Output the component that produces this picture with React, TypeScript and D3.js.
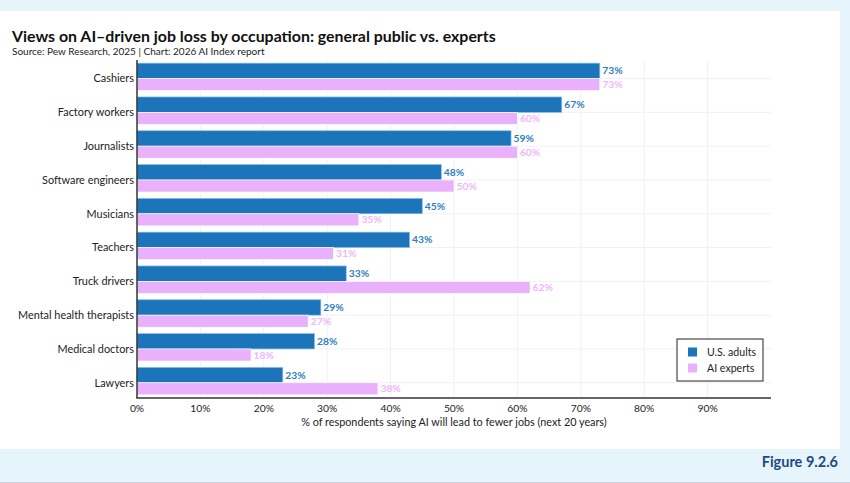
import * as d3 from "d3";

const categories = [
	"Cashiers",
	"Factory workers",
	"Journalists",
	"Software engineers",
	"Musicians",
	"Teachers",
	"Truck drivers",
	"Mental health therapists",
	"Medical doctors",
	"Lawyers",
];
const usAdults = [73, 67, 59, 48, 45, 43, 33, 29, 28, 23];
const aiExperts = [73, 60, 60, 50, 35, 31, 62, 27, 18, 38];
const xTicks = [0, 10, 20, 30, 40, 50, 60, 70, 80, 90];
const seriesNames = ["U.S. adults", "AI experts"];

const W = 850;
const H = 483;
const FONT = "Lato, 'Open Sans', sans-serif";
const BLUE = "#1c75bb";
const PINK = "#e9b1fc";
const BLUE_TXT = "#2f80c2";
const PINK_TXT = "#efb6fd";

function App() {
	const x = d3.scaleLinear().domain([0, 100]).range([137, 771]);
	const y = d3
		.scaleBand<string>()
		.domain(categories)
		.range([60, 398])
		.paddingInner(0.186)
		.paddingOuter(0.093);
	const bw = y.bandwidth();
	const blueH = bw * 0.56;
	const pinkH = bw - blueH;

	return (
		<svg
			width={W}
			height={H}
			style={{ position: "absolute", left: 0, top: 0 }}
			fontFamily={FONT}
		>
			<rect width={W} height={H} fill="#e6f4fc" />
			<rect x={0} y={11} width={840} height={438} fill="#fff" />
			<line x1={0} x2={W} y1={482.5} y2={482.5} stroke="#c9d6de" />

			<text x={12} y={41.5} fontSize={15.9} fontWeight={700} fill="#111">
				Views on AI–driven job loss by occupation: general public vs. experts
			</text>
			<text x={12} y={55} fontSize={10} fill="#222">
				Source: Pew Research, 2025 | Chart: 2026 AI Index report
			</text>

			{/* grid */}
			{xTicks.slice(1).map((t) => (
				<line
					key={"gx" + t}
					x1={x(t)}
					x2={x(t)}
					y1={60}
					y2={398}
					stroke="#f1f1f1"
				/>
			))}
			{categories.map((c) => (
				<line
					key={"gy" + c}
					x1={137}
					x2={771}
					y1={(y(c) as number) + blueH}
					y2={(y(c) as number) + blueH}
					stroke="#f1f1f1"
				/>
			))}

			{/* bars */}
			{categories.map((c, i) => {
				const y0 = y(c) as number;
				return (
					<g key={c}>
						<rect
							x={x(0)}
							y={y0}
							width={x(usAdults[i]) - x(0)}
							height={blueH}
							fill={BLUE}
							stroke="#8ec0e6"
							strokeWidth={0.7}
						/>
						<rect
							x={x(0)}
							y={y0 + blueH}
							width={x(aiExperts[i]) - x(0)}
							height={pinkH}
							fill={PINK}
							stroke="#fff"
							strokeWidth={0.7}
						/>
						<text
							x={x(usAdults[i]) + 2.5}
							y={y0 + blueH / 2}
							dy="0.35em"
							fontSize={10.3}
							fontWeight={700}
							fill={BLUE_TXT}
						>
							{usAdults[i]}%
						</text>
						<text
							x={x(aiExperts[i]) + 2.5}
							y={y0 + blueH + pinkH / 2}
							dy="0.35em"
							fontSize={10.3}
							fontWeight={700}
							fill={PINK_TXT}
						>
							{aiExperts[i]}%
						</text>
						<text
							x={134}
							y={y0 + blueH}
							dy="0.35em"
							textAnchor="end"
							fontSize={10.9}
							fill="#222"
						>
							{c}
						</text>
					</g>
				);
			})}

			{/* axes */}
			<line x1={137} x2={137} y1={60} y2={398} stroke="#333" strokeWidth={1.5} />
			<line x1={136.25} x2={771} y1={398} y2={398} stroke="#333" strokeWidth={1.5} />
			{xTicks.map((t) => (
				<text
					key={"xt" + t}
					x={x(t)}
					y={408}
					dy="0.35em"
					textAnchor="middle"
					fontSize={10.3}
					fill="#222"
				>
					{t}%
				</text>
			))}
			<text
				x={(x(0) + x(100)) / 2}
				y={422.5}
				dy="0.35em"
				textAnchor="middle"
				fontSize={10.8}
				fill="#222"
			>
				% of respondents saying AI will lead to fewer jobs (next 20 years)
			</text>

			{/* legend */}
			<rect x={677} y={339} width={86} height={42} fill="#fff" stroke="#222" strokeWidth={1} />
			{seriesNames.map((s, i) => (
				<g key={s}>
					<rect x={688} y={347.5 + i * 16} width={9} height={9} fill={i === 0 ? BLUE : PINK} />
					<text x={707} y={352 + i * 16} dy="0.35em" fontSize={10.6} fill="#222">
						{s}
					</text>
				</g>
			))}

			<text x={838} y={467} textAnchor="end" fontSize={14.5} fontWeight={700} fill="#1f4a7f">
				Figure 9.2.6
			</text>
		</svg>
	);
}

export default App;
